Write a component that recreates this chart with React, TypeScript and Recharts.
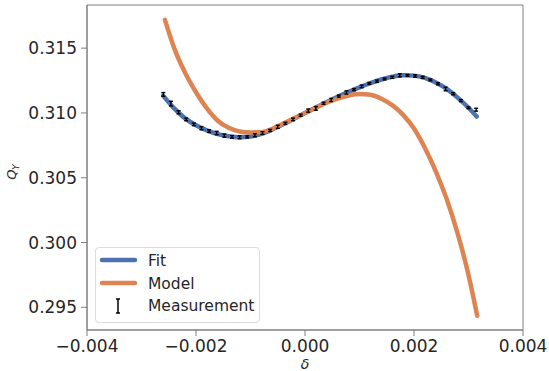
import React from 'react';
import { ComposedChart, Line, Scatter, ErrorBar, XAxis, YAxis, ReferenceArea, Legend } from 'recharts';

const fitX = [-0.0026, -0.0024, -0.0022, -0.002, -0.0018, -0.0016, -0.0014, -0.0012, -0.001, -0.0008, -0.0006, -0.0004, -0.0002, 0, 0.0002, 0.0004, 0.0006, 0.0008, 0.001, 0.0012, 0.0014, 0.0016, 0.0018, 0.002, 0.0022, 0.0024, 0.0026, 0.0028, 0.003, 0.00315];
const fitY = [0.31132, 0.31035, 0.30958, 0.30905, 0.30865, 0.30837, 0.3082, 0.30813, 0.30818, 0.30838, 0.30872, 0.30912, 0.30955, 0.31, 0.31043, 0.31085, 0.31125, 0.31163, 0.31198, 0.3123, 0.31258, 0.31279, 0.3129, 0.31288, 0.3127, 0.31235, 0.31185, 0.31118, 0.3104, 0.30972];

const modelX = [-0.00257, -0.0024, -0.0022, -0.002, -0.0018, -0.0016, -0.0014, -0.0012, -0.001, -0.0008, -0.0006, -0.0004, -0.0002, 0, 0.0002, 0.0004, 0.0006, 0.0008, 0.001, 0.0012, 0.0014, 0.0016, 0.0018, 0.002, 0.0022, 0.0024, 0.0026, 0.0028, 0.003, 0.00316];
const modelY = [0.31718, 0.315, 0.3131, 0.3116, 0.31035, 0.3094, 0.30885, 0.30857, 0.3085, 0.30852, 0.30878, 0.30918, 0.30958, 0.31, 0.3104, 0.3108, 0.3111, 0.31135, 0.31146, 0.3114, 0.3111, 0.3106, 0.30985, 0.3088, 0.3073, 0.3055, 0.30335, 0.3007, 0.2975, 0.29435];

const measX = [-0.0026, -0.00246, -0.00232, -0.00218, -0.00204, -0.0019, -0.00176, -0.00162, -0.00148, -0.00134, -0.0012, -0.00106, -0.00092, -0.00078, -0.00064, -0.0005, -0.00036, -0.00022, -0.00008, 0.00006, 0.0002, 0.00034, 0.00048, 0.00062, 0.00076, 0.0009, 0.00104, 0.00118, 0.00132, 0.00146, 0.0016, 0.00174, 0.00188, 0.00202, 0.00216, 0.0023, 0.00244, 0.00258, 0.00272, 0.00286, 0.003, 0.00314];
const measY = [0.31143, 0.31072, 0.31005, 0.3095, 0.30912, 0.30882, 0.3086, 0.30845, 0.30825, 0.30815, 0.30812, 0.30815, 0.30828, 0.30845, 0.30865, 0.30893, 0.3092, 0.3095, 0.30983, 0.31018, 0.31035, 0.31075, 0.311, 0.3113, 0.31158, 0.3118, 0.31205, 0.31228, 0.31245, 0.31262, 0.31275, 0.3129, 0.3129, 0.31285, 0.31275, 0.31255, 0.31225, 0.31185, 0.31148, 0.31095, 0.3104, 0.31025];
const measErr = [0.00014, 0.00018, 0.00012, 0.0001, 0.0001, 0.00012, 0.0001, 0.00013, 0.00012, 0.0001, 0.00011, 0.00008, 0.00012, 0.0001, 0.00008, 0.00012, 0.00008, 0.0001, 0.00008, 0.00012, 0.00014, 0.00008, 0.00012, 0.00008, 0.00012, 0.00008, 0.0001, 0.00007, 0.00009, 0.00007, 0.00008, 0.00012, 0.00007, 0.00009, 0.00008, 0.00007, 0.00008, 0.00014, 0.00008, 0.00008, 0.00007, 0.00011];

const xTicks = [-0.004, -0.002, 0, 0.002, 0.004];
const yTicks = [0.295, 0.3, 0.305, 0.31, 0.315];

const fitData = fitX.map((x, i) => ({ x, y: fitY[i] }));
const modelData = modelX.map((x, i) => ({ x, y: modelY[i] }));
const measData = measX.map((x, i) => ({ x, y: measY[i], err: measErr[i] }));

const X_DOMAIN: [number, number] = [-0.004, 0.004];
const Y_DOMAIN: [number, number] = [0.29325, 0.31833];

const BLUE = '#4C72B0';
const ORANGE = '#DD8452';
const SPINE = '#7f7f7f';
const TEXT = '#262626';
const FONT = 'DejaVu Sans, sans-serif';

const fmtX = (v: number) => (v < 0 ? '\u2212' : '') + Math.abs(v).toFixed(3);
const fmtY = (v: number) => v.toFixed(3);

const LegendBox = () => (
  <div style={{ width: 163, height: 74, border: '1px solid #dcdcdc', borderRadius: 4, background: 'rgba(255,255,255,0.8)', fontFamily: FONT, fontSize: 15.5, color: TEXT, boxSizing: 'content-box' }}>
    <svg width={163} height={74} style={{ display: 'block' }}>
      <line x1={6} x2={39} y1={12} y2={12} stroke={BLUE} strokeWidth={4.5} strokeLinecap="round" />
      <text x={52} y={18} fill={TEXT} fontSize={15.5} fontFamily={FONT}>Fit</text>
      <line x1={6} x2={39} y1={35} y2={35} stroke={ORANGE} strokeWidth={4.5} strokeLinecap="round" />
      <text x={52} y={41} fill={TEXT} fontSize={15.5} fontFamily={FONT}>Model</text>
      <g stroke="#000" strokeWidth={1.5}>
        <line x1={22} x2={22} y1={51} y2={65} />
        <line x1={20} x2={24} y1={51} y2={51} />
        <line x1={20} x2={24} y1={65} y2={65} />
      </g>
      <text x={52} y={63} fill={TEXT} fontSize={15.5} fontFamily={FONT}>Measurement</text>
    </svg>
  </div>
);

const YLabel = () => (
  <text transform="translate(16,172) rotate(-90)" textAnchor="middle" fill={TEXT} fontFamily={FONT} fontSize={13}>
    <tspan fontStyle="italic">Q</tspan>
    <tspan fontStyle="italic" fontSize={9} dy={3}>Y</tspan>
  </text>
);

const XLabel = () => (
  <text x={305} y={369} textAnchor="middle" fill={TEXT} fontFamily={FONT} fontSize={14} fontStyle="italic">δ</text>
);

export default function App() {
  return (
    <div style={{ position: 'absolute', left: 0, top: 0, width: 549, height: 371, background: '#fff' }}>
      <ComposedChart width={549} height={371} margin={{ top: 5, right: 26, bottom: 0, left: 0 }}>
        <XAxis
          dataKey="x"
          type="number"
          domain={X_DOMAIN}
          ticks={xTicks}
          tickFormatter={fmtX}
          height={41}
          allowDataOverflow
          stroke={SPINE}
          tickSize={6}
          tickMargin={4}
          tick={{ fill: TEXT, fontSize: 17, fontFamily: FONT }}
          label={{ content: () => <XLabel /> }}
        />
        <YAxis
          dataKey="y"
          type="number"
          domain={Y_DOMAIN}
          ticks={yTicks}
          tickFormatter={fmtY}
          width={87}
          allowDataOverflow
          stroke={SPINE}
          tickSize={6}
          tickMargin={4}
          tick={{ fill: TEXT, fontSize: 17, fontFamily: FONT }}
          label={{ content: () => <YLabel /> }}
        />
        <ReferenceArea x1={X_DOMAIN[0]} x2={X_DOMAIN[1]} y1={Y_DOMAIN[0]} y2={Y_DOMAIN[1]} fill="none" stroke={SPINE} strokeWidth={1} ifOverflow="visible" />
        <Line data={fitData} dataKey="y" type="monotone" stroke={BLUE} strokeWidth={4.5} dot={false} isAnimationActive={false} strokeLinecap="round" />
        <Line data={modelData} dataKey="y" type="monotone" stroke={ORANGE} strokeWidth={4.5} dot={false} isAnimationActive={false} strokeLinecap="round" />
        <Scatter data={measData} dataKey="y" shape={() => <g />} isAnimationActive={false}>
          <ErrorBar dataKey="err" direction="y" width={2} stroke="#000" strokeWidth={1.4} isAnimationActive={false} />
        </Scatter>
        <Legend layout="horizontal" verticalAlign="middle" align="center" content={() => <LegendBox />} wrapperStyle={{ left: 95, top: 247, width: 165, height: 76 }} />
      </ComposedChart>
    </div>
  );
}
